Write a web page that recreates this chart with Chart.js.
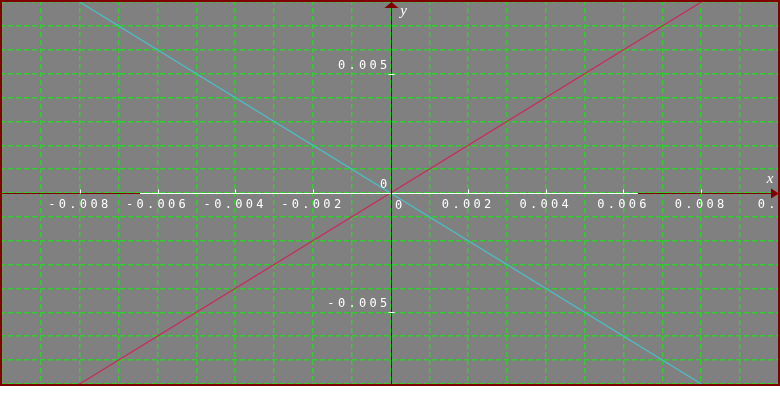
<!DOCTYPE html>
<html>
<head>
<meta charset="utf-8">
<script src="https://cdn.jsdelivr.net/npm/chart.js@4/dist/chart.umd.min.js"></script>
<style>
  html, body { margin: 0; padding: 0; background: #ffffff; }
  #wrap { width: 780px; height: 407px; }
</style>
</head>
<body>
<div id="wrap"><canvas id="grafico" width="780" height="407"></canvas></div>
<script>
// valores
var xValores = [-0.0102, 0.0102];
var serieVermelha = [-0.0102, 0.0102];   // y = x
var serieCiano = [0.0102, -0.0102];      // y = -x
var xRotulos = [-0.008, -0.006, -0.004, -0.002, 0.002, 0.004, 0.006, 0.008, 0.01];
var yRotulos = [-0.005, 0.005];
var xLimites = [-0.010057, 0.010031];
var yLimites = [-0.008089, 0.008089];
var passoGrade = 0.001;

var corEixo = '#800000';
var corGrade = '#33cc33';

function pontos(xs, ys) {
    var out = [];
    for (var i = 0; i < xs.length; i++) {
        out.push({x: xs[i], y: ys[i]});
    }
    return out;
}

function rotulo(lista, casas) {
    return function(valor) {
        for (var i = 0; i < lista.length; i++) {
            if (Math.abs(lista[i] - valor) < 1e-9) {
                return lista[i] === 0.01 ? '0.01' : lista[i].toFixed(casas);
            }
        }
        return '';
    };
}

function semPadding(scale) {
    scale.paddingLeft = 0;
    scale.paddingRight = 0;
    scale.paddingTop = 0;
    scale.paddingBottom = 0;
}

var decoracao = {
    id: 'decoracao',
    beforeDraw: function(chart) {
        var ctx = chart.ctx, a = chart.chartArea;
        ctx.save();
        ctx.fillStyle = '#808080';
        ctx.fillRect(a.left, a.top, a.right - a.left, a.bottom - a.top);
        ctx.restore();
        ctx.letterSpacing = '3.3px';
    },
    afterDraw: function(chart) {
        var ctx = chart.ctx, a = chart.chartArea;
        var sx = chart.scales.x, sy = chart.scales.y;
        var x0 = Math.round(sx.getPixelForValue(0)) + 0.5;
        var y0 = Math.round(sy.getPixelForValue(0)) + 0.5;
        ctx.save();
        ctx.lineWidth = 1;

        // eixo x
        ctx.strokeStyle = corEixo;
        ctx.beginPath();
        ctx.moveTo(a.left, y0);
        ctx.lineTo(a.right, y0);
        ctx.stroke();
        ctx.strokeStyle = '#ffffff';
        ctx.beginPath();
        ctx.moveTo(sx.getPixelForValue(-0.00645), y0);
        ctx.lineTo(sx.getPixelForValue(0.00637), y0);
        ctx.stroke();

        // eixo y
        ctx.strokeStyle = corEixo;
        ctx.beginPath();
        ctx.moveTo(x0, a.top);
        ctx.lineTo(x0, a.bottom);
        ctx.stroke();

        // marcas
        ctx.strokeStyle = '#ffffff';
        ctx.beginPath();
        xRotulos.forEach(function(v) {
            var px = Math.round(sx.getPixelForValue(v)) + 0.5;
            ctx.moveTo(px, y0 - 4);
            ctx.lineTo(px, y0);
        });
        yRotulos.forEach(function(v) {
            var py = Math.round(sy.getPixelForValue(v)) + 0.5;
            ctx.moveTo(x0 - 3, py);
            ctx.lineTo(x0 + 3, py);
        });
        ctx.stroke();

        // setas
        ctx.fillStyle = corEixo;
        ctx.beginPath();
        ctx.moveTo(x0, a.top + 2);
        ctx.lineTo(x0 - 7, a.top + 8);
        ctx.lineTo(x0 + 7, a.top + 8);
        ctx.closePath();
        ctx.fill();
        ctx.beginPath();
        ctx.moveTo(a.right - 1, y0);
        ctx.lineTo(a.right - 9, y0 - 5);
        ctx.lineTo(a.right - 9, y0 + 5);
        ctx.closePath();
        ctx.fill();

        // zeros
        ctx.fillStyle = '#ffffff';
        ctx.font = '12px "DejaVu Sans Mono"';
        ctx.letterSpacing = '0px';
        ctx.textAlign = 'center';
        ctx.textBaseline = 'middle';
        ctx.fillText('0', x0 - 8, y0 - 9);
        ctx.fillText('0', x0 + 7, y0 + 12);

        // nomes dos eixos
        ctx.font = 'italic 15px "Liberation Serif"';
        ctx.fillText('x', a.right - 10, y0 - 14);
        ctx.fillText('y', x0 + 12, a.top + 11);

        // moldura
        ctx.strokeStyle = corEixo;
        ctx.lineWidth = 2;
        ctx.strokeRect(a.left + 1, a.top + 1, a.right - a.left - 2, a.bottom - a.top - 2);
        ctx.restore();
    }
};

var grafico = new Chart(document.getElementById('grafico'), {
    type: 'line',
    data: {
        datasets: [{
            label: 'y = x',
            data: pontos(xValores, serieVermelha),
            borderColor: '#cc2858',
            borderWidth: 1.2,
            pointRadius: 0,
            fill: false
        }, {
            label: 'y = -x',
            data: pontos(xValores, serieCiano),
            borderColor: '#48c0c8',
            borderWidth: 1.2,
            pointRadius: 0,
            fill: false
        }]
    },
    options: {
        responsive: false,
        animation: false,
        devicePixelRatio: 1,
        layout: { padding: { left: 0, right: 0, top: 0, bottom: 21 } },
        plugins: {
            legend: { display: false },
            tooltip: { enabled: false }
        },
        scales: {
            x: {
                type: 'linear',
                position: { y: 0 },
                min: xLimites[0],
                max: xLimites[1],
                afterFit: semPadding,
                border: { display: false, dash: [5, 3] },
                grid: { color: corGrade, lineWidth: 1.5, drawTicks: false },
                ticks: {
                    stepSize: passoGrade,
                    includeBounds: false,
                    autoSkip: false,
                    maxRotation: 0,
                    maxTicksLimit: 100,
                    padding: 5,
                    color: '#ffffff',
                    font: { family: 'DejaVu Sans Mono', size: 12 },
                    callback: rotulo(xRotulos, 3)
                }
            },
            y: {
                type: 'linear',
                position: { x: 0 },
                min: yLimites[0],
                max: yLimites[1],
                afterFit: semPadding,
                border: { display: false, dash: [5, 3] },
                grid: { color: corGrade, lineWidth: 1.5, drawTicks: false },
                ticks: {
                    stepSize: passoGrade,
                    includeBounds: false,
                    autoSkip: false,
                    maxTicksLimit: 100,
                    padding: 1,
                    labelOffset: -8,
                    color: '#ffffff',
                    font: { family: 'DejaVu Sans Mono', size: 12 },
                    callback: rotulo(yRotulos, 3)
                }
            }
        }
    },
    plugins: [decoracao]
});
</script>
</body>
</html>
